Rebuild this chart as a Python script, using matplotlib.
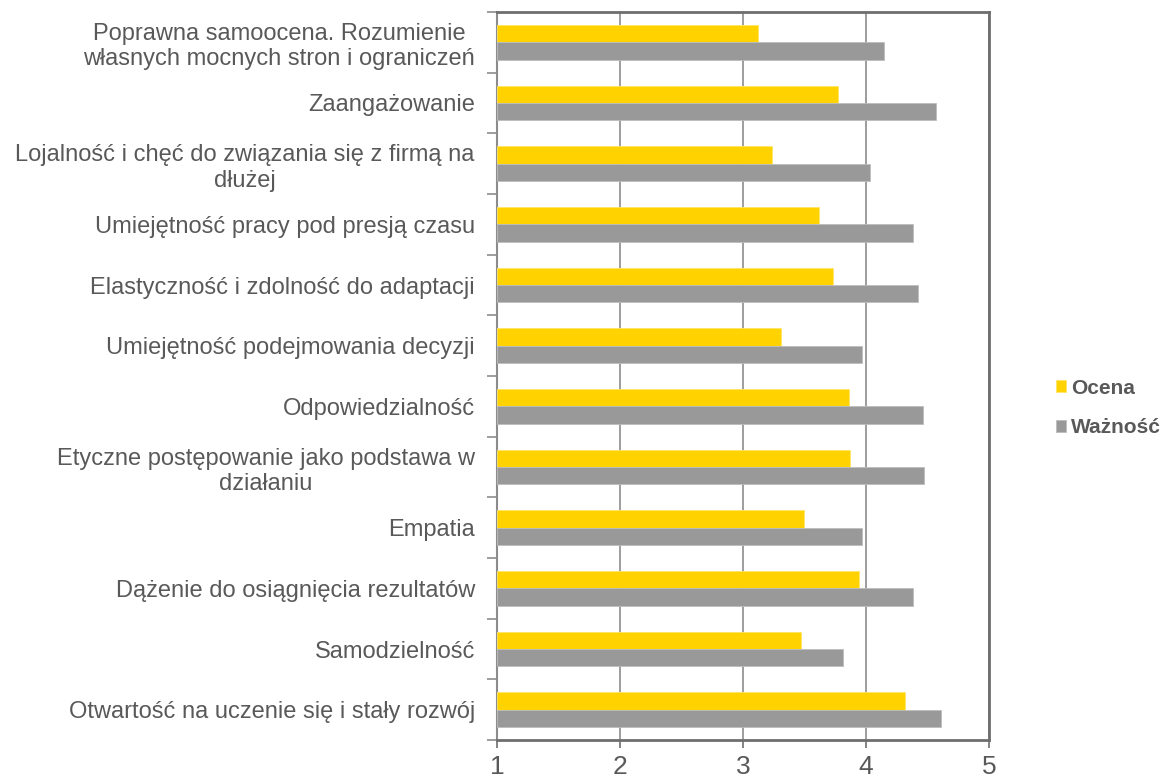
import numpy as np
import matplotlib
matplotlib.use("Agg")
import matplotlib.pyplot as plt
from matplotlib.ticker import FixedLocator

plt.rcParams["font.family"] = ["Liberation Sans", "DejaVu Sans"]

categories = [
    "Poprawna samoocena. Rozumienie\nwłasnych mocnych stron i ograniczeń",
    "Zaangażowanie",
    "Lojalność i chęć do związania się z firmą na\ndłużej",
    "Umiejętność pracy pod presją czasu",
    "Elastyczność i zdolność do adaptacji",
    "Umiejętność podejmowania decyzji",
    "Odpowiedzialność",
    "Etyczne postępowanie jako podstawa w\ndziałaniu",
    "Empatia",
    "Dążenie do osiągnięcia rezultatów",
    "Samodzielność",
    "Otwartość na uczenie się i stały rozwój",
]
ocena = [3.12, 3.77, 3.24, 3.62, 3.73, 3.31, 3.86, 3.87, 3.50, 3.94, 3.47, 4.32]
waznosc = [4.15, 4.57, 4.03, 4.38, 4.42, 3.97, 4.46, 4.47, 3.97, 4.38, 3.81, 4.61]
series_names = ["Ocena", "Ważność"]

yellow = "#FFD200"
gray = "#999999"
text_col = "#595959"
frame_col = "#6E6E6E"

fig = plt.figure(figsize=(11.65, 7.78), dpi=100)
ax = fig.add_axes([0.4266, 0.0488, 0.4223, 0.9358])

n = len(categories)
pos = np.arange(n)
h = 0.285
base = 1
ax.barh(pos - h / 2, np.array(ocena) - base, height=h, left=base, color=yellow,
        edgecolor="#FFE566", linewidth=0.6, label=series_names[0], zorder=3)
ax.barh(pos + h / 2, np.array(waznosc) - base, height=h, left=base, color=gray,
        edgecolor="#BDBDBD", linewidth=0.6, label=series_names[1], zorder=3)

ax.set_xlim(1, 5)
ax.set_ylim(n - 0.5, -0.5)
ax.set_xticks([1, 2, 3, 4, 5])
ax.tick_params(axis="x", labelsize=19, colors=frame_col, labelcolor=text_col,
               length=6, width=1.2, direction="out", pad=5)
ax.xaxis.grid(True, color="#8C8C8C", linewidth=1.2, zorder=0)

# y ticks at category boundaries, labels at centers
ax.yaxis.set_major_locator(FixedLocator(np.arange(n + 1) - 0.5))
ax.yaxis.set_minor_locator(FixedLocator(pos))
ax.set_yticklabels([], minor=False)
ax.set_yticklabels(categories, minor=True, fontsize=17, color=text_col,
                   multialignment="center", linespacing=1.2)
ax.tick_params(axis="y", which="major", length=7, width=1.2, colors="#8C8C8C")
ax.tick_params(axis="y", which="minor", length=0, pad=16)

for side in ["top", "right", "bottom", "left"]:
    ax.spines[side].set_color(frame_col)
    ax.spines[side].set_linewidth(2)
ax.spines["left"].set_color("#8C8C8C")
ax.spines["left"].set_linewidth(1.5)

leg = fig.legend(loc="center left", bbox_to_anchor=(0.9065, 0.4756), frameon=False,
                 borderpad=0, borderaxespad=0,
                 handlelength=0.5, handleheight=0.5, handletextpad=0.2,
                 labelspacing=1.0, prop={"size": 15, "weight": "bold"})
for t in leg.get_texts():
    t.set_color(text_col)

fig.savefig("out.png", dpi=100)
